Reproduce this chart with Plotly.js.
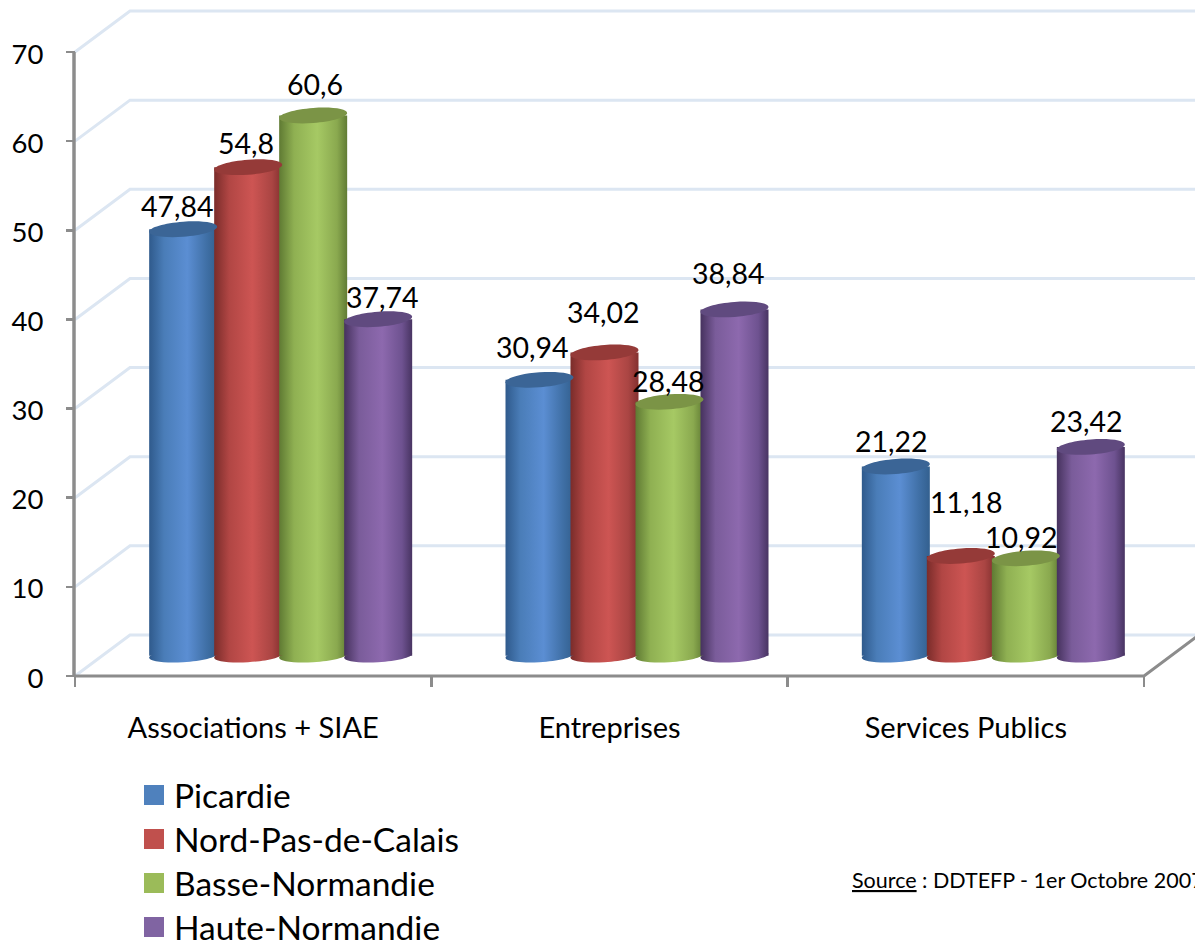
<!DOCTYPE html>
<html>
<head>
<meta charset="utf-8">
<script src="https://cdn.plot.ly/plotly-3.0.1.min.js"></script>
<style>html,body{margin:0;padding:0;background:#fff;overflow:hidden}#chart{width:1195px;height:941px}</style>
</head>
<body>
<div id="chart"></div>
<script>
const categories = ['Associations + SIAE', 'Entreprises', 'Services Publics'];
const seriesNames = ['Picardie', 'Nord-Pas-de-Calais', 'Basse-Normandie', 'Haute-Normandie'];
const picardie = [47.84, 30.94, 21.22];
const nordPasDeCalais = [54.8, 34.02, 11.18];
const basseNormandie = [60.6, 28.48, 10.92];
const hauteNormandie = [37.74, 38.84, 23.42];
const labelTexts = [['47,84','30,94','21,22'], ['54,8','34,02','11,18'], ['60,6','28,48','10,92'], ['37,74','38,84','23,42']];
const yTicks = [0, 10, 20, 30, 40, 50, 60, 70];

const seriesValues = [picardie, nordPasDeCalais, basseNormandie, hauteNormandie];
const flatColors = ['#4f81bd', '#c0504d', '#9bbb59', '#8064a2'];
const topColors = ['#3b6596', '#953a38', '#7b9446', '#604a7f'];
const stops = [
  ['#2f5a8c', '#4a7db8', '#5b8ed3', '#3f6fa5', '#33608f'],
  ['#7a2c2a', '#b14644', '#cd5553', '#aa4543', '#83302f'],
  ['#5f7a33', '#8fb052', '#a6c964', '#8aa94f', '#617c34'],
  ['#46325e', '#7a5c9a', '#8d69ae', '#6e5290', '#483462']
];
const labelShiftX = [[-5.5, -7, -4], [-2, -1, 6], [2, -1, -4], [4, -6, -4]];
const labelShiftY = [[23, 33, 26], [24, 40, 54], [31, 21, 21], [22, 36, 26]];

// pixel geometry of the pseudo-3D frame
const W = 1195, H = 941, plotL = 10, plotT = 5, plotB = 700;
const axisX = 75, axisY = 676;
const pxPerCat = (1144 - 75) / 3, pxPerUnit = (676 - 52) / 70;
const xLo = -0.5 - (axisX - plotL) / pxPerCat, xHi = -0.5 + (W - axisX) / pxPerCat;
const yLo = -(plotB - axisY) / pxPerUnit, yHi = (axisY - plotT) / pxPerUnit;
const depthX = 55 / pxPerCat, depthY = 41 / pxPerUnit;
const baseVal = 2.28, barPx = 68, stepPx = 65, shiftPx = 27.5;
const catLeft = -0.5, catRight = 2.5;
const legendFirstRowPx = 795, legendRowPx = 44;

function centerOf(s, c) { return c + (shiftPx + (s - 1.5) * stepPx) / pxPerCat; }

function ellipse(cx, cy, rxPx, ryPx, tiltPx) {
  const k = 0.5523;
  const map = (u, v) => (cx + u * rxPx / pxPerCat).toFixed(5) + ',' + (cy + (v * ryPx + u * tiltPx) / pxPerUnit).toFixed(5);
  return 'M' + map(1, 0) +
    'C' + map(1, k) + ' ' + map(k, 1) + ' ' + map(0, 1) +
    'C' + map(-k, 1) + ' ' + map(-1, k) + ' ' + map(-1, 0) +
    'C' + map(-1, -k) + ' ' + map(-k, -1) + ' ' + map(0, -1) +
    'C' + map(k, -1) + ' ' + map(1, -k) + ' ' + map(1, 0) + 'Z';
}

const shapes = [];
const gradShapes = [];
const gridColor = '#dce6f2', axisColor = '#8c8c8c';
yTicks.forEach(v => {
  shapes.push({ type: 'path', layer: 'below', xref: 'x', yref: 'y',
    path: 'M' + catLeft + ',' + v + 'L' + (catLeft + depthX) + ',' + (v + depthY) + 'L' + xHi + ',' + (v + depthY),
    line: { color: gridColor, width: 3 } });
});
shapes.push({ type: 'line', layer: 'below', xref: 'x', yref: 'y', x0: catLeft - 1 / pxPerCat, x1: catLeft - 1 / pxPerCat, y0: 0, y1: 70, line: { color: axisColor, width: 3.5 } });
shapes.push({ type: 'path', layer: 'below', xref: 'x', yref: 'y',
  path: 'M' + catLeft + ',0L' + catRight + ',0L' + (catRight + depthX) + ',' + depthY,
  line: { color: axisColor, width: 3 } });
seriesValues.forEach((vals, s) => vals.forEach((v, c) => {
  gradShapes.push([shapes.length, s]);
  shapes.push({ type: 'path', layer: 'below', xref: 'x', yref: 'y', path: ellipse(centerOf(s, c), baseVal, barPx / 2, 6.5, 2), fillcolor: flatColors[s], line: { width: 0 } });
}));
seriesValues.forEach((vals, s) => vals.forEach((v, c) => {
  shapes.push({ type: 'path', layer: 'above', xref: 'x', yref: 'y', path: ellipse(centerOf(s, c), baseVal + v, barPx / 2, 7.5, 2.5), fillcolor: topColors[s], line: { width: 0 } });
}));

const traces = seriesValues.map((vals, s) => ({
  type: 'bar', name: seriesNames[s],
  x: categories, y: vals, base: baseVal,
  width: barPx / pxPerCat,
  offset: (shiftPx + (s - 1.5) * stepPx - barPx / 2) / pxPerCat,
  marker: { color: flatColors[s], line: { width: 0 } },
  hoverinfo: 'skip'
}));

const font = 'Lato, "Open Sans", sans-serif';
const annotations = [];
seriesValues.forEach((vals, s) => vals.forEach((v, c) => {
  annotations.push({ xref: 'x', yref: 'y', x: centerOf(s, c), y: baseVal + v, text: labelTexts[s][c], showarrow: false,
    xanchor: 'center', yanchor: 'middle', xshift: labelShiftX[s][c], yshift: labelShiftY[s][c],
    font: { family: font, size: 28.5, color: '#000' } });
}));
annotations.push({ xref: 'paper', yref: 'paper', x: (850 - plotL) / (W - plotL), y: (plotB - 880) / (plotB - plotT),
  xanchor: 'left', yanchor: 'middle', showarrow: false, text: '<u>Source</u> : DDTEFP - 1er Octobre 2007',
  font: { family: font, size: 21.5, color: '#000' } });

const layout = {
  width: W, height: H, showlegend: true, barmode: 'overlay', hovermode: false,
  paper_bgcolor: '#fff', plot_bgcolor: '#fff',
  margin: { l: plotL, r: 0, t: plotT, b: H - plotB, pad: 0, autoexpand: false },
  font: { family: font, color: '#000' },
  xaxis: { type: 'category', range: [xLo, xHi], anchor: 'free', position: (plotB - axisY) / (plotB - plotT),
    categoryorder: 'array', categoryarray: categories, tickson: 'boundaries', ticks: 'outside', ticklen: 10, tickwidth: 2.5, tickcolor: axisColor,
    showgrid: false, showline: false, zeroline: false, ticklabelstandoff: 32, tickfont: { family: font, size: 29, color: '#000' } },
  yaxis: { range: [yLo, yHi], anchor: 'free', position: (axisX - plotL) / (W - plotL),
    tickmode: 'array', tickvals: yTicks, ticks: 'outside', ticklen: 9, tickwidth: 2.5, tickcolor: axisColor, ticklabelshift: 2,
    showgrid: false, showline: false, zeroline: false, ticklabelstandoff: 17, tickfont: { family: font, size: 27.5, color: '#000' } },
  legend: { x: (134 - plotL) / (W - plotL), xanchor: 'left', y: (plotB - 766) / (plotB - plotT), yanchor: 'top',
    traceorder: 'normal', itemwidth: 30, itemclick: false, itemdoubleclick: false, bgcolor: 'rgba(0,0,0,0)',
    font: { family: font, size: 33.5, color: '#000' } },
  shapes, annotations
};

Plotly.newPlot('chart', traces, layout, { displayModeBar: false, staticPlot: true }).then(gd => {
  const svg = gd.querySelector('svg.main-svg');
  const NS = 'http://www.w3.org/2000/svg';
  const defs = document.createElementNS(NS, 'defs');
  stops.forEach((st, s) => {
    const g = document.createElementNS(NS, 'linearGradient');
    g.setAttribute('id', 'cyl' + s);
    [0, 0.22, 0.56, 0.85, 1].forEach((o, i) => {
      const st1 = document.createElementNS(NS, 'stop');
      st1.setAttribute('offset', o);
      st1.setAttribute('stop-color', st[i]);
      g.appendChild(st1);
    });
    defs.appendChild(g);
  });
  svg.insertBefore(defs, svg.firstChild);
  gd.querySelectorAll('.barlayer .trace').forEach((t, s) => {
    t.querySelectorAll('.point path').forEach(p => p.style.setProperty('fill', 'url(#cyl' + s + ')'));
  });
  gradShapes.forEach(([i, s]) => {
    const p = gd.querySelector('.shapelayer path[data-index="' + i + '"]');
    if (p) p.style.setProperty('fill', 'url(#cyl' + s + ')');
  });
  gd.querySelectorAll('.legend .legendpoints path').forEach(p => p.setAttribute('d', 'M10,10H-10V-10H10Z'));
  const rows = Array.from(gd.querySelectorAll('.legend .traces'));
  rows.forEach((r, i) => {
    const m = /translate\(\s*([-\d.]+)[ ,]+([-\d.]+)\s*\)/.exec(r.getAttribute('transform') || '');
    if (m) {
      const box = r.querySelector('.legendpoints path').getBoundingClientRect();
      const centre = (box.top + box.bottom) / 2;
      const target = legendFirstRowPx + i * legendRowPx;
      r.setAttribute('transform', 'translate(' + m[1] + ',' + (parseFloat(m[2]) + target - centre) + ')');
    }
  });
  const clip = gd.querySelector('.legend .scrollbox');
  if (clip) { clip.removeAttribute('clip-path'); clip.style.removeProperty('clip-path'); }
});
</script>
</body>
</html>
